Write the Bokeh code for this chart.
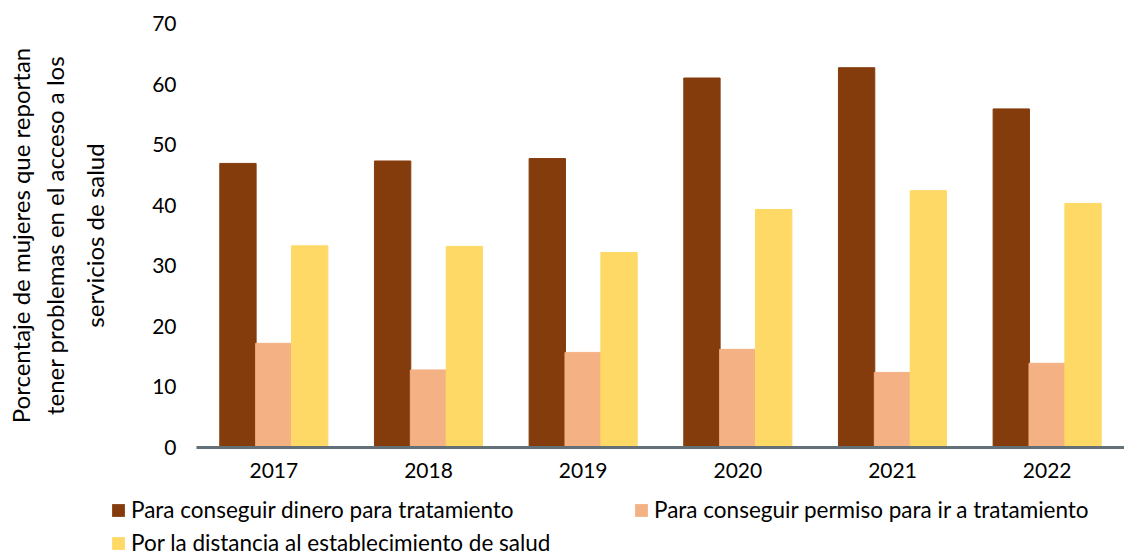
from bokeh.plotting import figure
from bokeh.layouts import column, row
from bokeh.models import FactorRange, Range1d, Legend, LegendItem, Title, FixedTicker
from bokeh.transform import dodge
from bokeh.models import ColumnDataSource
from bokeh.embed import file_html
from bokeh.resources import INLINE

years = ["2017", "2018", "2019", "2020", "2021", "2022"]
dinero = [46.9, 47.3, 47.7, 61.0, 62.7, 55.9]
permiso = [17.2, 12.8, 15.7, 16.2, 12.4, 13.9]
distancia = [33.3, 33.2, 32.2, 39.3, 42.4, 40.3]
labels = ["Para conseguir dinero para tratamiento",
          "Para conseguir permiso para ir a tratamiento",
          "Por la distancia al establecimiento de salud"]
colors = ["#843C0C", "#F4B183", "#FFD966"]
ylabel_lines = ["Porcentaje de mujeres que reportan",
                "tener problemas en el acceso a los",
                "servicios de salud"]

FONT = "Lato"
src = ColumnDataSource(dict(year=years, dinero=dinero, permiso=permiso, distancia=distancia))

p = figure(x_range=FactorRange(*years, range_padding=0), y_range=Range1d(0, 70),
           width=1124, height=490, output_backend="svg", toolbar_location=None,
           min_border_left=193, min_border_right=0, min_border_top=23, min_border_bottom=43)
p.outline_line_color = None
p.grid.grid_line_color = None

w = 0.235
for field, off, c in zip(["dinero", "permiso", "distancia"], [-0.232, 0.0, 0.232], colors):
    p.vbar(x=dodge("year", off, range=p.x_range), top=field, width=w, source=src,
           fill_color=c, line_color=c)

p.yaxis.ticker = FixedTicker(ticks=list(range(0, 71, 10)))
p.yaxis.axis_line_color = None
p.yaxis.major_tick_line_color = None
p.yaxis.minor_tick_line_color = None
p.yaxis.major_tick_out = 0
p.yaxis.major_tick_in = 0
p.yaxis.major_label_standoff = 20
p.yaxis.major_label_text_font = FONT
p.yaxis.major_label_text_font_size = "21px"
p.yaxis.major_label_text_color = "#000000"

p.xaxis.axis_line_color = "#637077"
p.xaxis.axis_line_width = 3
p.xaxis.major_tick_line_color = None
p.xaxis.minor_tick_line_color = None
p.xaxis.major_tick_out = 0
p.xaxis.major_tick_in = 0
p.xaxis.major_label_standoff = 15
p.xaxis.major_label_text_font = FONT
p.xaxis.major_label_text_font_size = "21px"
p.xaxis.major_label_text_color = "#000000"

# spacer between tick labels and the axis title lines
p.add_layout(Title(text=" ", text_font=FONT, text_font_size="23px", standoff=1), "left")
for line, so in zip(reversed(ylabel_lines), [19, 0, 6]):
    t = Title(text=line, align="center", text_font=FONT, text_font_size="24px",
              text_font_style="normal", text_color="#000000", standoff=so, offset=0)
    p.add_layout(t, "left")

# legend strip below the chart
lg = figure(width=1124, height=63, output_backend="svg", toolbar_location=None,
            x_range=Range1d(0, 1), y_range=Range1d(0, 1), x_axis_type=None, y_axis_type=None,
            min_border_left=0, min_border_right=0, min_border_top=0, min_border_bottom=0)
lg.outline_line_color = None
lg.grid.grid_line_color = None
rs = [lg.vbar(x=[0.5], top=[0], bottom=[0], width=0.0, fill_color=c, line_color=None)
      for c in colors]
legend = Legend(items=[LegendItem(label=l, renderers=[r]) for l, r in zip(labels, rs)],
                ncols=2, location=(110, -3), orientation="horizontal",
                glyph_width=16, glyph_height=16, label_standoff=5, spacing=6,
                label_width=496, padding=0, margin=0,
                border_line_color=None, background_fill_alpha=0,
                label_text_font=FONT, label_text_font_size="22.5px",
                label_text_color="#000000")
lg.add_layout(legend, "center")

layout = column(p, row(lg, spacing=0), spacing=0)
open("out.html", "w").write(file_html(layout, INLINE))
